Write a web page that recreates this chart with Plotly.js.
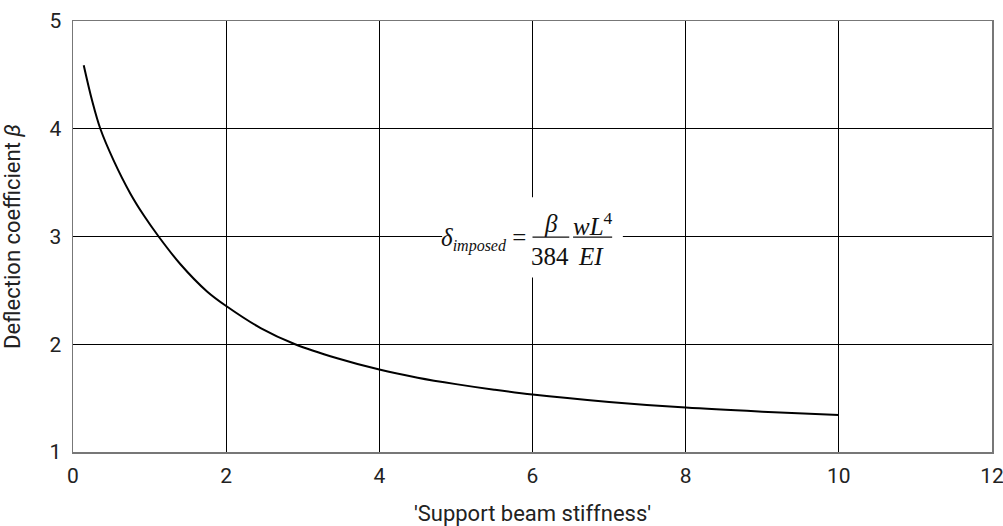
<!DOCTYPE html>
<html>
<head>
<meta charset="utf-8">
<script src="https://cdn.plot.ly/plotly-3.0.1.min.js"></script>
<style>html,body{margin:0;padding:0;background:#fff;}#chart{width:1003px;height:526px;}</style>
</head>
<body>
<div id="chart"></div>
<script>
// Support beam stiffness (x) vs deflection coefficient beta (y)
const stiffness = [0.14, 0.25, 0.357, 0.53, 0.748, 0.93, 1.118, 1.40, 1.75, 2.01, 2.45, 2.90, 3.45, 4.0, 4.5, 5.0, 5.5, 6.0, 7.0, 8.0, 9.0, 10.0];
const beta      = [4.59, 4.26, 4.00, 3.707, 3.40, 3.19, 3.00, 2.745, 2.49, 2.35, 2.15, 2.00, 1.87, 1.765, 1.69, 1.63, 1.578, 1.533, 1.465, 1.412, 1.374, 1.343];

const xTicks = [0, 2, 4, 6, 8, 10, 12];
const yTicks = [1, 2, 3, 4, 5];

const xTitle = "'Support beam stiffness'";
const yTitle = "Deflection coefficient <i>β</i>";

const trace = {
  x: stiffness, y: beta, type: 'scatter', mode: 'lines',
  line: {color: '#000', width: 2, shape: 'spline', smoothing: 1},
  hoverinfo: 'skip', showlegend: false
};

const serif = 'Liberation Serif, DejaVu Serif, serif';
const eqFont = {family: serif, size: 25, color: '#111'};

const layout = {
  width: 1003, height: 526,
  margin: {l: 73, r: 11, t: 21, b: 74},
  paper_bgcolor: '#fff', plot_bgcolor: '#fff',
  font: {family: 'Roboto, sans-serif', size: 21, color: '#222'},
  xaxis: {
    range: [0, 12], tickvals: xTicks, ticktext: xTicks.map(String),
    showgrid: true, gridcolor: '#000', gridwidth: 1,
    zeroline: false, showline: true, linecolor: '#777', linewidth: 1.5, mirror: true,
    ticks: '', ticklen: 0, ticklabelstandoff: 4, ticklabeloverflow: 'allow',
    tickfont: {size: 21, color: '#222'},
    title: {text: xTitle, font: {size: 22, color: '#222'}, standoff: 20}
  },
  yaxis: {
    range: [1, 5], tickvals: yTicks, ticktext: yTicks.map(String),
    showgrid: true, gridcolor: '#000', gridwidth: 1,
    zeroline: false, showline: true, linecolor: '#777', linewidth: 1.5, mirror: true,
    ticks: '', ticklen: 0, ticklabelstandoff: 6, ticklabeloverflow: 'allow',
    tickfont: {size: 21, color: '#222'},
    title: {text: yTitle, font: {size: 22, color: '#222'}, standoff: 24}
  },
  shapes: [
    {type: 'rect', xref: 'x', yref: 'y', x0: 4.82, x1: 7.18, y0: 2.62, y1: 3.365,
     fillcolor: '#fff', line: {width: 0}, layer: 'above'},
    {type: 'line', xref: 'x', yref: 'y', x0: 6.0, x1: 6.48, y0: 2.995, y1: 2.995,
     line: {color: '#111', width: 1.2}, layer: 'above'},
    {type: 'line', xref: 'x', yref: 'y', x0: 6.53, x1: 7.04, y0: 2.995, y1: 2.995,
     line: {color: '#111', width: 1.2}, layer: 'above'}
  ],
  annotations: [
    {xref: 'x', yref: 'y', x: 5.935, y: 2.97, xanchor: 'right', yanchor: 'middle', showarrow: false,
     text: '<i>δ</i><sub><i><span style="font-size:16px">imposed</span></i></sub> =', font: eqFont},
    {xref: 'x', yref: 'y', x: 6.235, y: 3.12, xanchor: 'center', yanchor: 'middle', showarrow: false,
     text: '<i>β</i>', font: eqFont},
    {xref: 'x', yref: 'y', x: 6.225, y: 2.815, xanchor: 'center', yanchor: 'middle', showarrow: false,
     text: '384', font: eqFont},
    {xref: 'x', yref: 'y', x: 6.79, y: 3.12, xanchor: 'center', yanchor: 'middle', showarrow: false,
     text: '<i>wL</i><sup>4</sup>', font: eqFont},
    {xref: 'x', yref: 'y', x: 6.76, y: 2.81, xanchor: 'center', yanchor: 'middle', showarrow: false,
     text: '<i>EI</i>', font: eqFont}
  ]
};

Plotly.newPlot('chart', [trace], layout, {displayModeBar: false, staticPlot: true});
</script>
</body>
</html>
